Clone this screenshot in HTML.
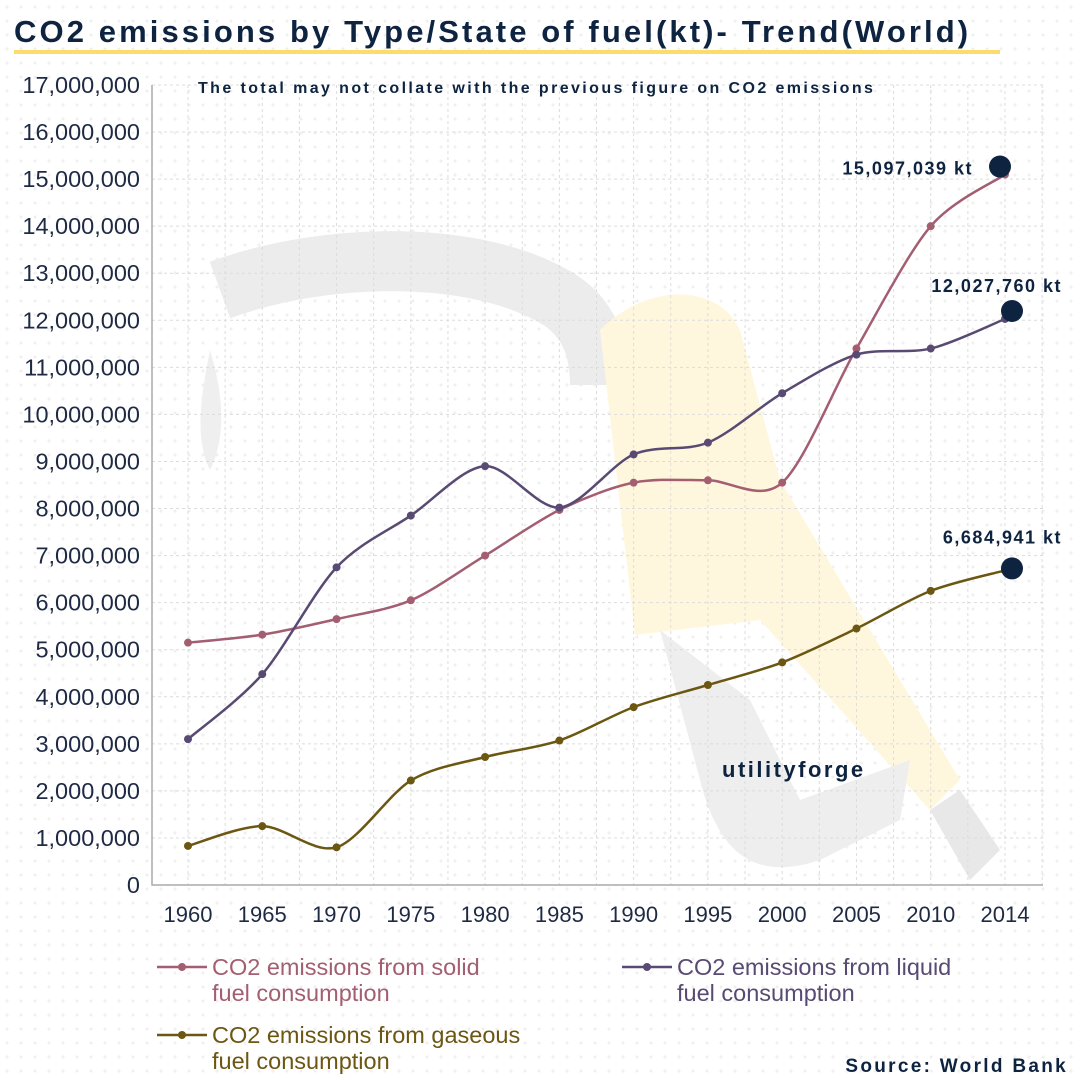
<!DOCTYPE html>
<html><head><meta charset="utf-8">
<style>
html,body{margin:0;padding:0;background:#fff;}
#wrap{position:relative;width:1080px;height:1080px;overflow:hidden;
background-color:#fff;background-image:radial-gradient(#f0f0f0 1.5px,transparent 1.6px);background-size:14px 14px;}
svg{position:absolute;left:0;top:0;}
</style></head>
<body>
<div id="wrap">
<svg id="chart" width="1080" height="1080"></svg>
</div>
<script>
const years = ["1960","1965","1970","1975","1980","1985","1990","1995","2000","2005","2010","2014"];
const solid = [5.15,5.32,5.65,6.05,7.0,7.97,8.55,8.6,8.55,11.4,14.0,15.097];
const liquid = [3.1,4.48,6.75,7.85,8.9,8.02,9.15,9.4,10.45,11.27,11.4,12.028];
const gaseous = [0.83,1.25,0.8,2.22,2.72,3.07,3.78,4.25,4.73,5.45,6.25,6.685];
const yTicks = [0,1,2,3,4,5,6,7,8,9,10,11,12,13,14,15,16,17];
const endLabels = ["15,097,039 kt","12,027,760 kt","6,684,941 kt"];

const NS="http://www.w3.org/2000/svg";
const svg=document.getElementById('chart');
const X0=188,X1=1005,Y0=885,Y1=85;
function xs(i){return X0+(X1-X0)*i/(years.length-1);}
function ys(v){return Y0-(Y0-Y1)*v/17;}
function mk(tag,attrs,parent){const e=document.createElementNS(NS,tag);for(const k in attrs)e.setAttribute(k,attrs[k]);(parent||svg).appendChild(e);return e;}

// watermark
const wm=mk('g',{});


mk('path',{d:'M220 290 C330 250 480 250 560 300 C590 320 600 350 600 385',fill:'none',stroke:'#ececec','stroke-width':60},wm);
mk('path',{d:'M210 350 C200 400 195 440 210 470 C225 440 225 400 210 350Z',fill:'#efefef'},wm);
mk('path',{d:'M600 330 C650 280 720 285 740 330 L780 480 L960 780 L930 810 L760 620 L635 635 Z',fill:'#fff7dd'},wm);
mk('path',{d:'M660 630 L700 780 C720 860 760 880 820 860 L900 820 L910 760 L800 800 L750 700 Z',fill:'#eeeeee'},wm);
mk('path',{d:'M930 810 L960 790 L1000 850 L970 880 Z',fill:'#e8e8e8'},wm);

// grid
for(const t of yTicks){
  const l=mk('line',{x1:152,x2:1043,y1:ys(t),y2:ys(t),stroke:'#dcdcdc','stroke-dasharray':'3,3','stroke-width':1});
  
  
}
for(let i=-0.5;i<=years.length-0.5;i+=0.5){
  const x=xs(i); if(x<152||x>1043) continue;
  const l=mk('line',{x1:x,x2:x,y1:Y1,y2:Y0,stroke:'#dcdcdc','stroke-dasharray':'3,3','stroke-width':1});
  
  
}
const ax=mk('path',{d:`M152 ${Y1} L152 ${Y0} L1043 ${Y0}`,fill:'none',stroke:'#aaaaaa','stroke-width':1.5});


for(const t of yTicks){
  const tx=mk('text',{x:140,y:ys(t)+8,'text-anchor':'end','font-family':'Liberation Sans, sans-serif','font-size':23.5,fill:'#1e2a44'});
  tx.textContent=(t*1000000).toLocaleString('en-US');
  
  
}
years.forEach((y,i)=>{
  const tx=mk('text',{x:xs(i),y:922,'text-anchor':'middle','font-family':'Liberation Sans, sans-serif','font-size':22,fill:'#1e2a44'});
  tx.textContent=y;
  
  
});

function curve(vals){
  const p=vals.map((v,i)=>[xs(i),ys(v)]);
  let d=`M${p[0][0]} ${p[0][1]}`;
  const t=0.3;
  for(let i=0;i<p.length-1;i++){
    const p0=p[i-1]||p[i],p1=p[i],p2=p[i+1],p3=p[i+2]||p2;
    d+=` C${p1[0]+(p2[0]-p0[0])*t/2} ${p1[1]+(p2[1]-p0[1])*t/2} ${p2[0]-(p3[0]-p1[0])*t/2} ${p2[1]-(p3[1]-p1[1])*t/2} ${p2[0]} ${p2[1]}`;
  }
  return d;
}
const series=[[solid,'#a35e72','solid-fuel'],[liquid,'#584a72','liquid-fuel'],[gaseous,'#6b5712','gaseous-fuel']];
const endOff=[[-5,-8],[7,-8],[7,-2]];
series.forEach(([vals,col,name],si)=>{
  const path=mk('path',{d:curve(vals),fill:'none',stroke:col,'stroke-width':2.5});
  
  
  vals.forEach((v,i)=>{
    const c=mk('circle',{cx:xs(i),cy:ys(v),r:4,fill:col});
    
    
  });
  const last=vals.length-1;
  const big=mk('circle',{cx:xs(last)+endOff[si][0],cy:ys(vals[last])+endOff[si][1],r:11,fill:'#0d2340'});
  
  
  const lb=mk('text',{x:si==0?973:1062,y:si==0?ys(vals[last]):ys(vals[last])-27,'text-anchor':'end','font-family':'Liberation Sans, sans-serif','font-weight':'bold','font-size':18,'letter-spacing':1.5,fill:'#0d2340'});
  lb.textContent=endLabels[si];
  
  
});

function txt(x,y,s,size,col,bold,name,anchor,ls){
  const t=mk('text',{x:x,y:y,'font-family':'Liberation Sans, sans-serif','font-size':size,fill:col,'font-weight':bold?'bold':'normal','text-anchor':anchor||'start','letter-spacing':ls||0});
  t.textContent=s;
  
  
  return t;
}
txt(14,42,'CO2 emissions by Type/State of fuel(kt)- Trend(World)',31,'#0d2340',true,'chart-title','start',3.1);
const ul=mk('rect',{x:14,y:50,width:986,height:4,fill:'#fcdc6a'});


txt(198,93,'The total may not collate with the previous figure on CO2 emissions',16,'#0d2340',true,'subtitle-note','start',2.4);
txt(722,777,'utilityforge',22,'#0d2340',true,'watermark-text','start',2.5);
txt(1068,1072,'Source: World Bank',19,'#0d2340',true,'source-note','end',2.3);

const legend=[['#a35e72','CO2 emissions from solid','fuel consumption',157,967],['#584a72','CO2 emissions from liquid','fuel consumption',622,967],['#6b5712','CO2 emissions from gaseous','fuel consumption',157,1035]];
legend.forEach(([c,a,b,x,y])=>{
  const g=mk('g',{});
  
  
  mk('line',{x1:x,x2:x+50,y1:y,y2:y,stroke:c,'stroke-width':2.5},g);
  mk('circle',{cx:x+25,cy:y,r:4,fill:c},g);
  const t1=mk('text',{x:x+55,y:y+8,'font-family':'Liberation Sans, sans-serif','font-size':23.5,fill:c},g);t1.textContent=a;
  const t2=mk('text',{x:x+55,y:y+34,'font-family':'Liberation Sans, sans-serif','font-size':23.5,fill:c},g);t2.textContent=b;
});
</script>
</body></html>
